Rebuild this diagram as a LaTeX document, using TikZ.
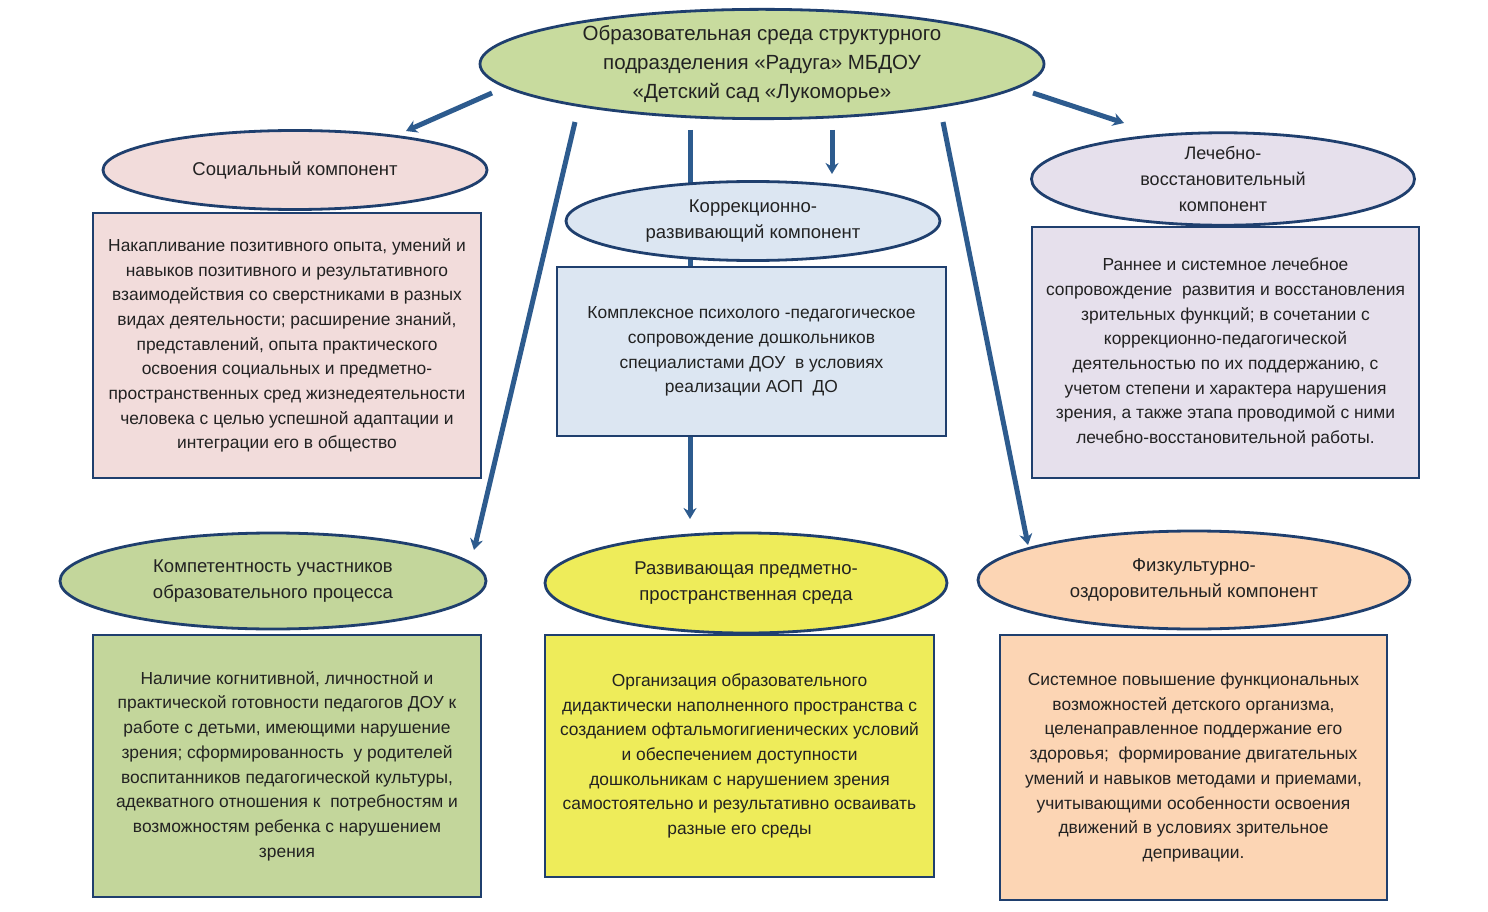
\documentclass[tikz,border=0pt]{standalone}
\usepackage{fontspec}
\setmainfont{Liberation Sans}
\usetikzlibrary{shapes.geometric,arrows.meta}
\definecolor{edge}{HTML}{1F3F6E}
\definecolor{arr}{HTML}{2D5B8E}
\definecolor{txt}{HTML}{222222}
\definecolor{cmain}{HTML}{C8DB9E}
\definecolor{cpink}{HTML}{F2DCDB}
\definecolor{cblue}{HTML}{DCE6F2}
\definecolor{clav}{HTML}{E6E0EC}
\definecolor{cgreen}{HTML}{C3D69B}
\definecolor{cyel}{HTML}{EEEC5A}
\definecolor{cpeach}{HTML}{FCD5B4}
\tikzset{
  ell/.style={ellipse, draw=edge, line width=2.8pt, inner sep=0pt, align=center, text=txt,
    font=\fontsize{18.5}{26.5}\selectfont},
  bx/.style={rectangle, draw=edge, line width=2.5pt, inner sep=0pt, align=center, text=txt,
    font=\fontsize{17.4}{24.7}\selectfont},
  conn/.style={draw=arr, line width=5pt, -{Stealth[length=11pt,width=13pt]}},
}
\begin{document}
\begin{tikzpicture}[x=1pt,y=-1pt]
\useasboundingbox (0,0) rectangle (1488,912);
\fill[white] (0,0) rectangle (1488,912);
% connector endpoints
\coordinate (s1) at (492,93);  \coordinate (e1) at (406,131);
\coordinate (s2) at (575,122); \coordinate (e2) at (474,550);
\coordinate (s3) at (690,130); \coordinate (e3) at (690,519);
\coordinate (s4) at (832,130); \coordinate (e4) at (832,174);
\coordinate (s5) at (943,122); \coordinate (e5) at (1028,545);
\coordinate (s6) at (1033,93); \coordinate (e6) at (1124,123);
\draw[conn] (s1) -- (e1);
\draw[conn] (s2) -- (e2);
\draw[conn] (s3) -- (e3);
\draw[conn] (s4) -- (e4);
\draw[conn] (s5) -- (e5);
\draw[conn] (s6) -- (e6);
% main
\node[ell, fill=cmain, minimum width=564pt, minimum height=94pt,
  font=\fontsize{20.5}{29}\selectfont] (main) at (762,64)
  {Образовательная среда структурного\\подразделения «Радуга» МБДОУ\\«Детский сад «Лукоморье»};
% social
\node[ell, fill=cpink, minimum width=384pt, minimum height=79pt] (soc) at (295,170)
  {Социальный компонент};
\node[bx, fill=cpink, minimum width=388pt, minimum height=265pt] (socb) at (287,345.5)
  {Накапливание позитивного опыта, умений и\\навыков позитивного и результативного\\взаимодействия со сверстниками в разных\\видах деятельности; расширение знаний,\\представлений, опыта практического\\освоения социальных и предметно-\\пространственных сред жизнедеятельности\\человека с целью успешной адаптации и\\интеграции его в общество};
% correction
\node[bx, fill=cblue, minimum width=389pt, minimum height=169pt] (korb) at (751.5,351.5)
  {Комплексное психолого -педагогическое\\сопровождение дошкольников\\специалистами ДОУ~ в условиях\\реализации АОП~ ДО};
\node[ell, fill=cblue, minimum width=374pt, minimum height=79pt] (kor) at (753,221)
  {Коррекционно-\\развивающий компонент};
% lech
\node[bx, fill=clav, minimum width=387pt, minimum height=251pt] (lecb) at (1225.5,352.5)
  {Раннее и системное лечебное\\сопровождение~ развития и восстановления\\зрительных функций; в сочетании с\\коррекционно-педагогической\\деятельностью по их поддержанию, с\\учетом степени и характера нарушения\\зрения, а также этапа проводимой с ними\\лечебно-восстановительной работы.};
\node[ell, fill=clav, minimum width=383pt, minimum height=78pt,
  font=\fontsize{18}{26}\selectfont] (lec) at (1223,179)
  {Лечебно-\\восстановительный\\компонент};
% competence
\node[ell, fill=cgreen, minimum width=426pt, minimum height=96pt] (kom) at (273,581)
  {Компетентность участников\\образовательного процесса};
\node[bx, fill=cgreen, minimum width=388pt, minimum height=262pt] (komb) at (287,766)
  {Наличие когнитивной, личностной и\\практической готовности педагогов ДОУ к\\работе с детьми, имеющими нарушение\\зрения; сформированность~ у родителей\\воспитанников педагогической культуры,\\адекватного отношения к~ потребностям и\\возможностям ребенка с нарушением\\зрения};
% develop
\node[ell, fill=cyel, minimum width=402pt, minimum height=100pt] (raz) at (746,583)
  {Развивающая предметно-\\пространственная среда};
\node[bx, fill=cyel, minimum width=389pt, minimum height=242pt] (razb) at (739.5,756)
  {Организация образовательного\\дидактически наполненного пространства с\\созданием офтальмогигиенических условий\\и обеспечением доступности\\дошкольникам с нарушением зрения\\самостоятельно и результативно осваивать\\разные его среды};
% phys
\node[ell, fill=cpeach, minimum width=432pt, minimum height=98pt] (fiz) at (1194,580)
  {Физкультурно-\\оздоровительный компонент};
\node[bx, fill=cpeach, minimum width=387pt, minimum height=265pt] (fizb) at (1193.5,767.5)
  {Системное повышение функциональных\\возможностей детского организма,\\целенаправленное поддержание его\\здоровья;~ формирование двигательных\\умений и навыков методами и приемами,\\учитывающими особенности освоения\\движений в условиях зрительное\\депривации.};
\end{tikzpicture}
\end{document}
